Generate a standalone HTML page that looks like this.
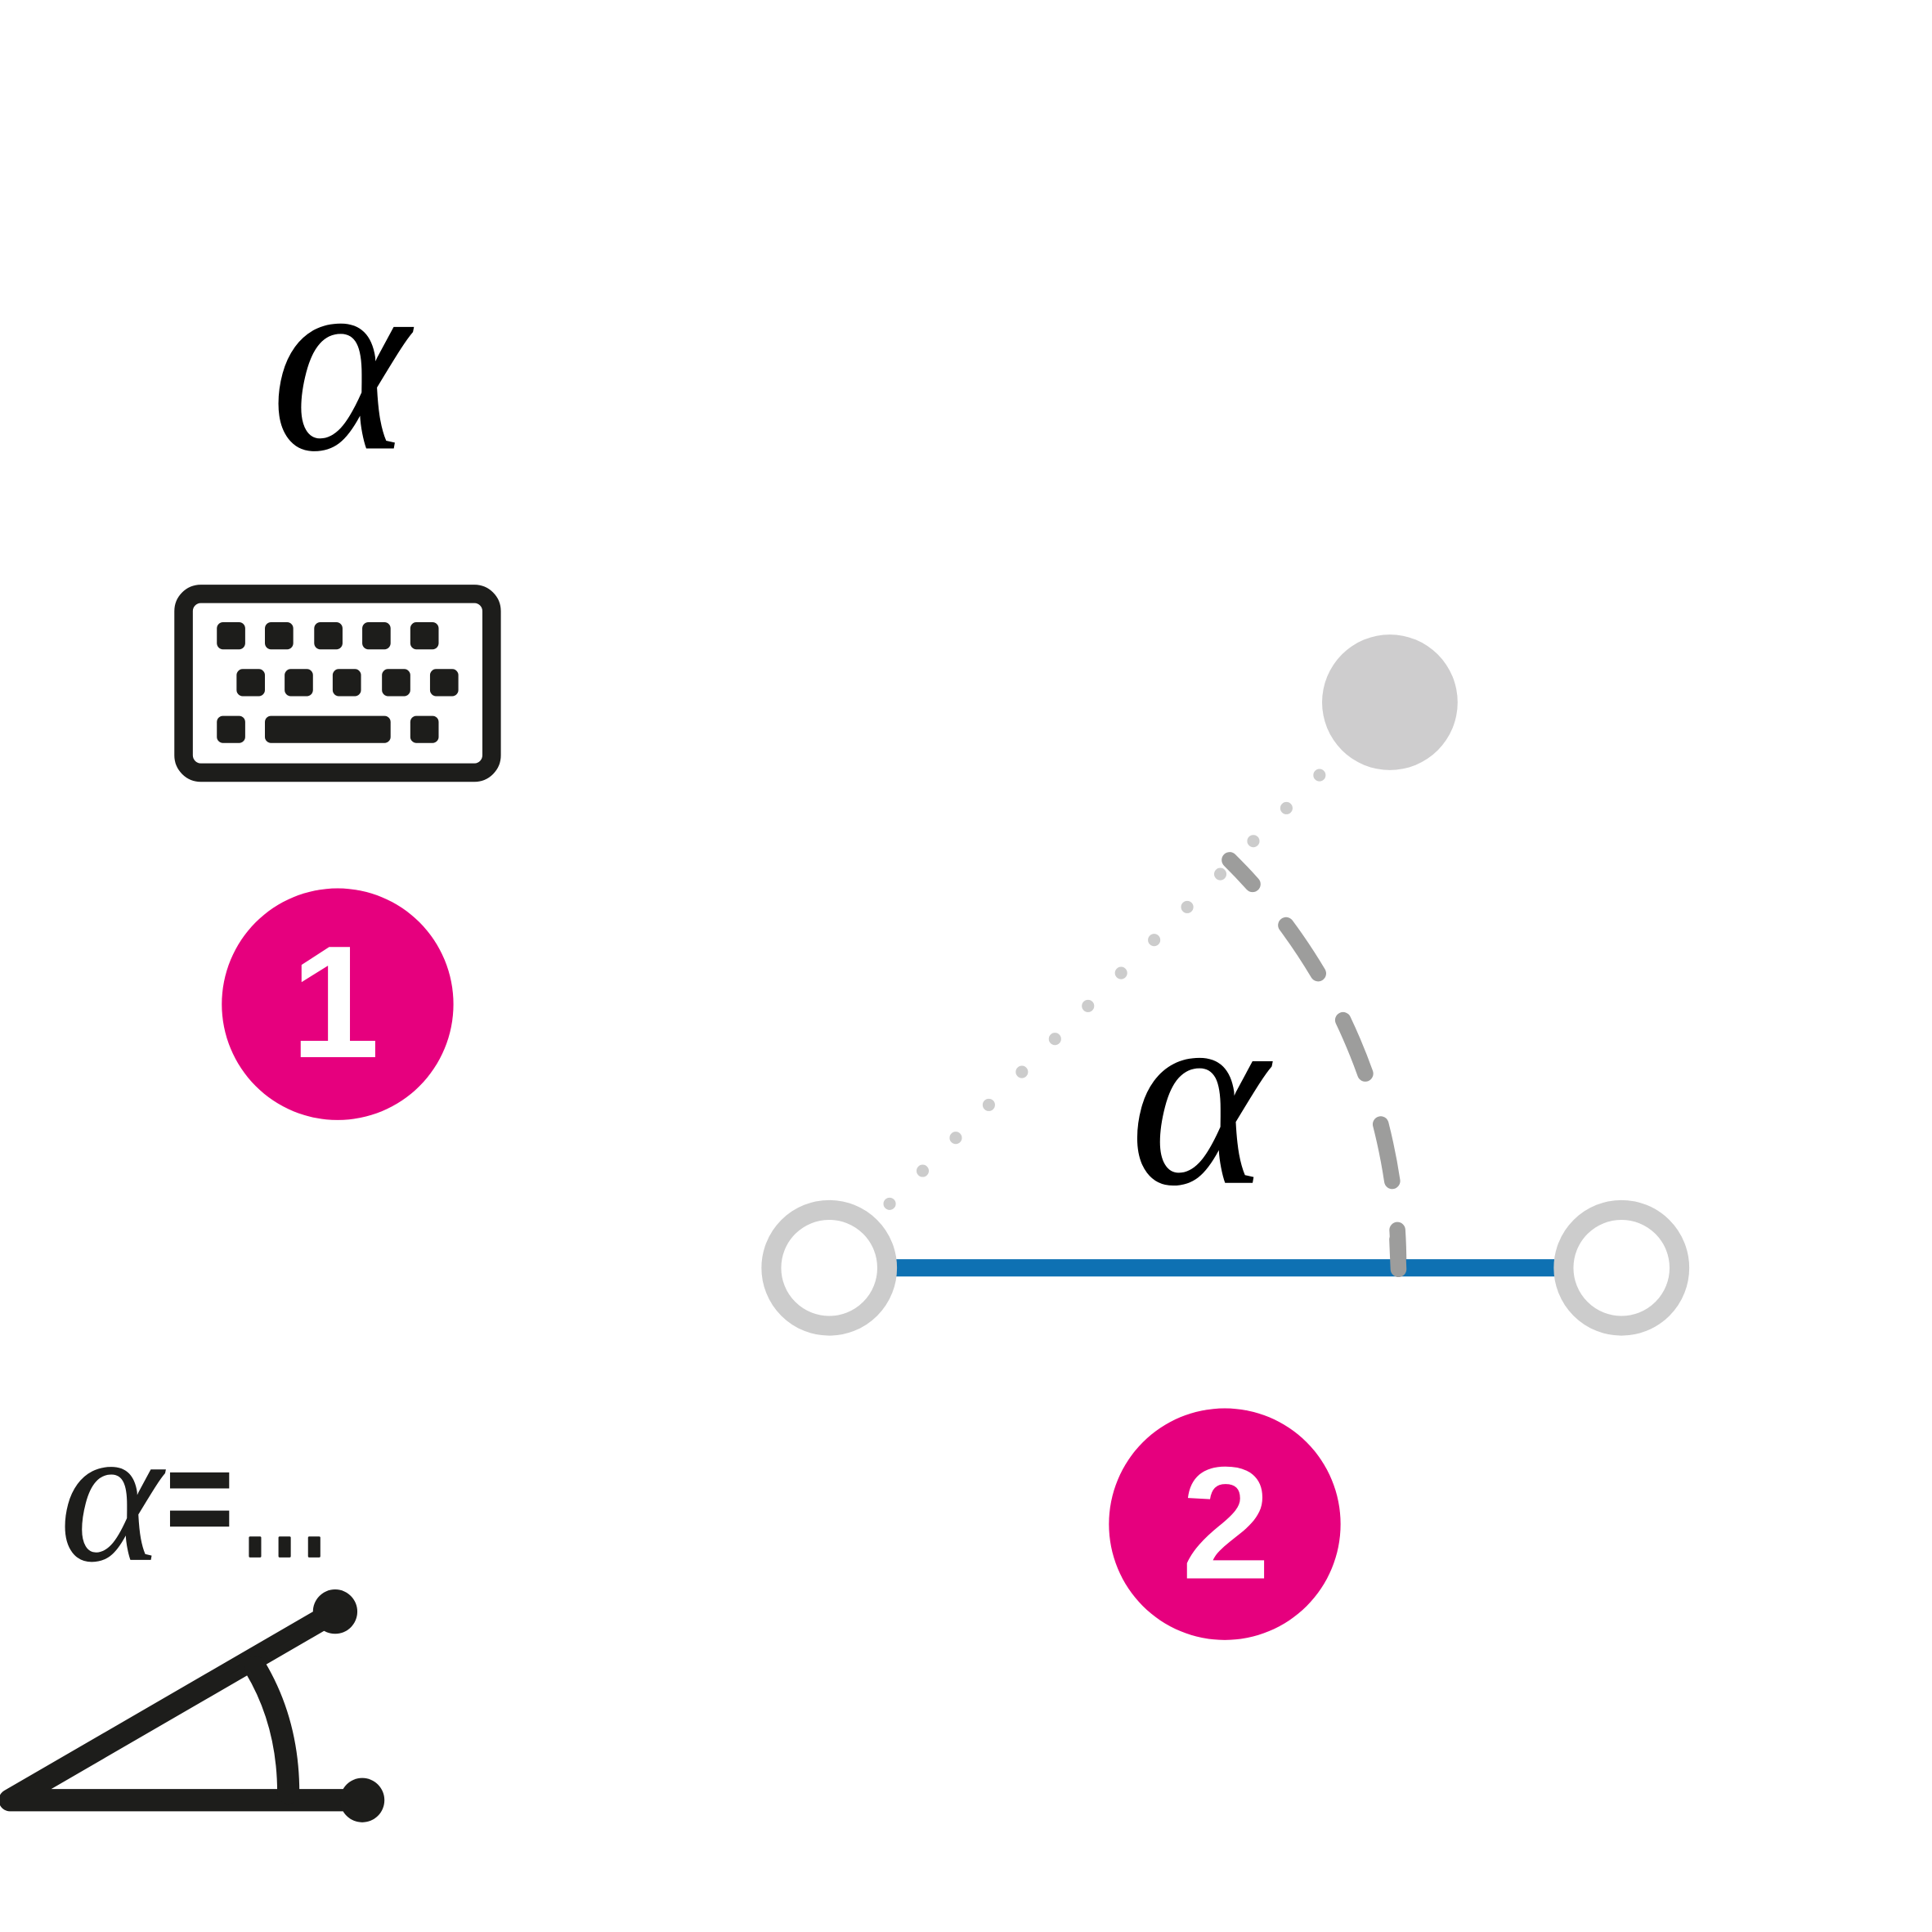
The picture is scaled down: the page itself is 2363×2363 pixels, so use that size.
<!DOCTYPE html>
<html><head><style>html,body{margin:0;padding:0;background:#fff}svg{display:block}</style></head>
<body>
<svg width="2363" height="2363" viewBox="0 0 1568 1568" xmlns="http://www.w3.org/2000/svg">
<rect width="1568" height="1568" fill="#fff"/>
<text x="276" y="364" font-family="Liberation Serif, serif" font-style="italic" font-size="215" text-anchor="middle" fill="#000">α</text>
<rect x="149" y="482" width="250" height="145" rx="14" fill="none" stroke="#1d1d1b" stroke-width="15"/>
<g fill="#1d1d1b">
<rect x="176" y="505" width="23" height="22" rx="5"/><rect x="215" y="505" width="23" height="22" rx="5"/><rect x="255" y="505" width="23" height="22" rx="5"/><rect x="294" y="505" width="23" height="22" rx="5"/><rect x="333" y="505" width="23" height="22" rx="5"/>
<rect x="192" y="543" width="23" height="22" rx="5"/><rect x="231" y="543" width="23" height="22" rx="5"/><rect x="270" y="543" width="23" height="22" rx="5"/><rect x="310" y="543" width="23" height="22" rx="5"/><rect x="349" y="543" width="23" height="22" rx="5"/>
<rect x="176" y="581" width="23" height="22" rx="5"/><rect x="215" y="581" width="102" height="22" rx="5"/><rect x="333" y="581" width="23" height="22" rx="5"/>
</g>
<circle cx="274" cy="815" r="94" fill="#e6007e"/>
<text x="272" y="858" font-family="Liberation Sans, sans-serif" font-weight="bold" font-size="130" text-anchor="middle" fill="#fff">1</text>
<circle cx="1128" cy="570" r="55" fill="#cecdce"/>
<line x1="722" y1="977" x2="1073" y2="627" stroke="#cccccc" stroke-width="10" stroke-linecap="round" stroke-dasharray="0 37.9"/>
<path d="M 998 698 A 464 464 0 0 1 1135 1030" fill="none" stroke="#9d9d9c" stroke-width="13" stroke-linecap="round" stroke-dasharray="27 43 47 43 47 43 47 40 60"/>
<line x1="727" y1="1029" x2="1262" y2="1029" stroke="#0e71b3" stroke-width="14"/>
<line x1="1134" y1="1006" x2="1135" y2="1030" stroke="#9d9d9c" stroke-width="13" stroke-linecap="round"/>
<circle cx="673" cy="1029" r="47" fill="#fff" stroke="#cccccc" stroke-width="16"/>
<circle cx="1316" cy="1029" r="47" fill="#fff" stroke="#cccccc" stroke-width="16"/>
<text x="973" y="960" font-family="Liberation Serif, serif" font-style="italic" font-size="215" text-anchor="middle" fill="#000">α</text>
<circle cx="994" cy="1237" r="94" fill="#e6007e"/>
<text x="995" y="1281" font-family="Liberation Sans, sans-serif" font-weight="bold" font-size="130" text-anchor="middle" fill="#fff">2</text>
<text x="90" y="1266" font-family="Liberation Serif, serif" font-style="italic" font-size="160" text-anchor="middle" fill="#1d1d1b">α</text>
<g fill="#1d1d1b">
<rect x="138" y="1195" width="48" height="13"/><rect x="138" y="1226" width="48" height="13"/>
<rect x="202" y="1247" width="10" height="17" rx="1"/><rect x="226" y="1247" width="10" height="17" rx="1"/><rect x="250" y="1247" width="10" height="17" rx="1"/>
</g>
<g stroke="#1d1d1b" stroke-width="18" stroke-linecap="round" stroke-linejoin="round" fill="none">
<polyline points="272,1308 8,1461 294,1461"/>
<path d="M 207 1353 Q 234 1398 234 1455"/>
</g>
<circle cx="272" cy="1308" r="18" fill="#1d1d1b"/>
<circle cx="294" cy="1461" r="18" fill="#1d1d1b"/>
</svg>
</body></html>
